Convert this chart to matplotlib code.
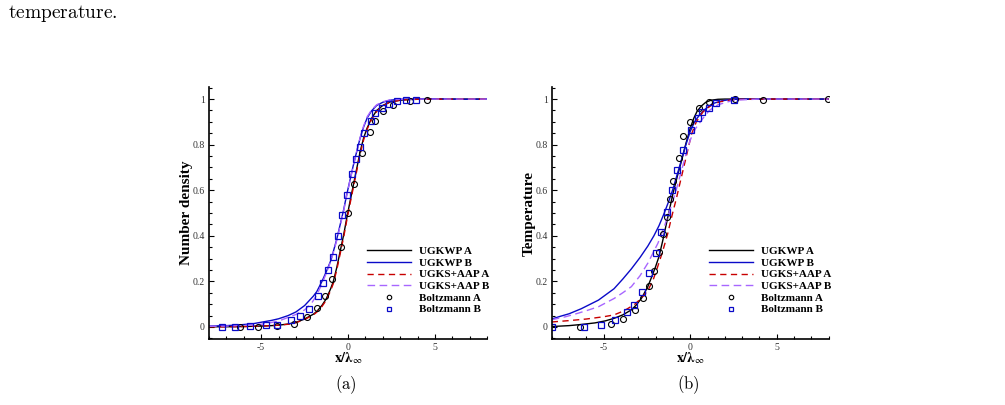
import numpy as np
import matplotlib
matplotlib.use("Agg")
import matplotlib.pyplot as plt
from matplotlib.ticker import MultipleLocator

plt.rcParams["font.family"] = ["Liberation Serif", "DejaVu Serif"]
plt.rcParams["mathtext.fontset"] = "stix"
plt.rcParams["axes.unicode_minus"] = False

# ---- (a) number density ----
a_ugkwp_A_x = [-8, -7, -6, -5, -4.4, -4, -3.45, -3, -2.5, -2, -1.8, -1.5, -1.25, -1, -0.85, -0.65, -0.45, -0.25,
               -0.08, 0.1, 0.3, 0.5, 0.7, 0.9, 1.1, 1.35, 1.65, 2, 2.4, 3, 3.5, 4.5, 6, 8]
a_ugkwp_A_y = [0.001, 0.001, 0.002, 0.004, 0.006, 0.008, 0.013, 0.02, 0.035, 0.056, 0.068, 0.095, 0.124, 0.168,
               0.199, 0.26, 0.333, 0.405, 0.475, 0.545, 0.62, 0.695, 0.77, 0.83, 0.873, 0.915, 0.95, 0.972, 0.987,
               0.995, 0.998, 1.0, 1.0, 1.0]
a_ugks_A_y = [0.001, 0.001, 0.002, 0.004, 0.006, 0.008, 0.012, 0.019, 0.033, 0.053, 0.065, 0.09, 0.118, 0.16,
              0.19, 0.25, 0.322, 0.395, 0.465, 0.535, 0.61, 0.685, 0.76, 0.822, 0.868, 0.91, 0.946, 0.97, 0.986,
              0.995, 0.998, 1.0, 1.0, 1.0]

a_ugkwp_B_x = [-8, -7, -6.3, -5.5, -4.4, -4, -3.45, -3, -2.5, -2, -1.8, -1.5, -1.25, -1, -0.85, -0.65, -0.45,
               -0.25, -0.08, 0.1, 0.3, 0.5, 0.7, 0.9, 1.1, 1.35, 1.65, 2, 2.4, 3, 3.5, 4.5, 6, 7, 8]
a_ugkwp_B_y = [0.004, 0.006, 0.009, 0.014, 0.029, 0.036, 0.05, 0.066, 0.094, 0.135, 0.155, 0.2, 0.243, 0.29,
               0.33, 0.385, 0.45, 0.515, 0.579, 0.64, 0.708, 0.77, 0.83, 0.878, 0.917, 0.948, 0.972, 0.986, 0.995,
               0.999, 1.0, 1.002, 1.0, 0.999, 1.0]

a_ugks_B_x = [-8, -7, -6, -5, -4.4, -4, -3.45, -3, -2.5, -2.1, -1.8, -1.5, -1.25, -1, -0.85, -0.65, -0.45, -0.25,
              -0.08, 0.1, 0.3, 0.5, 0.7, 0.9, 1.1, 1.35, 1.65, 2, 2.4, 3, 3.5, 4.5, 6, 8]
a_ugks_B_y = [0.003, 0.004, 0.007, 0.012, 0.02, 0.026, 0.042, 0.055, 0.075, 0.104, 0.14, 0.19, 0.236, 0.287,
              0.325, 0.38, 0.445, 0.51, 0.575, 0.637, 0.706, 0.77, 0.832, 0.882, 0.922, 0.952, 0.975, 0.988, 0.996,
              0.999, 1.0, 1.0, 1.0, 1.0]

a_boltz_A_x = [-6.24, -5.18, -4.06, -3.1, -2.34, -1.77, -1.32, -0.93, -0.43, 0.0, 0.37, 0.81, 1.26, 1.55, 2.0,
               2.56, 3.59, 4.53]
a_boltz_A_y = [0.0, 0.002, 0.006, 0.014, 0.044, 0.082, 0.134, 0.21, 0.353, 0.502, 0.628, 0.762, 0.855, 0.905,
               0.947, 0.975, 0.993, 0.996]
a_boltz_B_x = [-7.27, -6.5, -5.62, -4.75, -4.07, -3.3, -2.75, -2.25, -1.72, -1.43, -1.14, -0.89, -0.58, -0.33,
               -0.08, 0.23, 0.45, 0.68, 0.93, 1.3, 1.55, 1.98, 2.36, 2.81, 3.31, 3.9]
a_boltz_B_y = [0.0, 0.0, 0.003, 0.007, 0.01, 0.03, 0.05, 0.079, 0.134, 0.193, 0.25, 0.308, 0.399, 0.492, 0.58,
               0.67, 0.737, 0.788, 0.85, 0.905, 0.937, 0.96, 0.978, 0.99, 0.996, 0.997]

# ---- (b) temperature ----
b_ugkwp_A_x = [-8, -7, -6.3, -5.5, -4.9, -4.4, -3.9, -3.4, -3.1, -2.8, -2.45, -2.2, -2.0, -1.8, -1.6, -1.4, -1.2,
               -1.0, -0.75, -0.5, -0.25, 0, 0.2, 0.4, 0.65, 0.9, 1.2, 1.6, 2.0, 3, 5, 8]
b_ugkwp_A_y = [0.002, 0.006, 0.011, 0.018, 0.027, 0.038, 0.053, 0.075, 0.098, 0.128, 0.177, 0.225, 0.265, 0.31,
               0.375, 0.445, 0.515, 0.585, 0.66, 0.73, 0.805, 0.872, 0.915, 0.947, 0.97, 0.986, 0.995, 0.999, 1.0,
               1.0, 1.0, 1.0]

b_ugkwp_B_x = [-8, -7.5, -7, -6.3, -5.3, -4.4, -3.9, -3.4, -2.9, -2.45, -2.1, -1.8, -1.5, -1.25, -1.0, -0.75,
               -0.5, -0.25, 0, 0.25, 0.55, 0.9, 1.3, 1.8, 2.4, 3, 5, 8]
b_ugkwp_B_y = [0.035, 0.047, 0.058, 0.08, 0.118, 0.168, 0.21, 0.255, 0.305, 0.355, 0.4, 0.445, 0.5, 0.55,
               0.605, 0.67, 0.735, 0.8, 0.858, 0.9, 0.932, 0.958, 0.98, 0.992, 0.999, 1.0, 1.0, 1.0]

b_ugks_A_x = [-8, -7, -6, -5, -4.4, -3.8, -3.2, -2.8, -2.45, -2.15, -1.9, -1.6, -1.3, -1.05, -0.8, -0.55, -0.3,
              -0.1, 0.07, 0.35, 0.74, 1.2, 1.7, 2.5, 4, 8]
b_ugks_A_y = [0.022, 0.028, 0.035, 0.045, 0.053, 0.072, 0.1, 0.128, 0.16, 0.205, 0.26, 0.33, 0.41, 0.49, 0.564,
              0.645, 0.725, 0.79, 0.845, 0.9, 0.944, 0.972, 0.988, 0.998, 1.0, 1.0]

b_ugks_B_x = [-8, -7.2, -6.5, -5.9, -5.3, -4.4, -3.9, -3.4, -2.9, -2.45, -2.15, -1.87, -1.5, -1.1, -0.85, -0.6,
              -0.4, -0.2, 0, 0.3, 0.7, 1.1, 1.6, 2.5, 4, 8]
b_ugks_B_y = [0.032, 0.045, 0.06, 0.074, 0.089, 0.125, 0.15, 0.177, 0.225, 0.28, 0.325, 0.367, 0.44, 0.53, 0.59,
              0.66, 0.715, 0.77, 0.82, 0.87, 0.912, 0.95, 0.975, 0.995, 1.0, 1.0]

b_boltz_A_x = [-6.34, -4.6, -3.91, -3.18, -2.74, -2.41, -2.1, -1.83, -1.56, -1.37, -1.18, -0.98, -0.67, -0.39,
               -0.02, 0.48, 1.08, 2.56, 4.2, 7.98]
b_boltz_A_y = [0.001, 0.015, 0.036, 0.074, 0.126, 0.182, 0.247, 0.328, 0.407, 0.483, 0.56, 0.641, 0.742, 0.839,
               0.9, 0.96, 0.988, 0.999, 0.997, 0.999]
b_boltz_B_x = [-8.0, -6.11, -5.13, -4.32, -3.66, -3.24, -2.79, -2.37, -1.95, -1.66, -1.33, -1.06, -0.77, -0.44,
               0.04, 0.42, 0.69, 1.06, 1.5, 2.52]
b_boltz_B_y = [0.0, 0.0, 0.01, 0.031, 0.064, 0.096, 0.153, 0.235, 0.324, 0.416, 0.504, 0.6, 0.689, 0.777, 0.864,
               0.917, 0.942, 0.961, 0.984, 0.997]

labels = ["UGKWP A", "UGKWP B", "UGKS+AAP A", "UGKS+AAP B", "Boltzmann A", "Boltzmann B"]
c_black, c_blue, c_red, c_purple = "#000000", "#0a0ac8", "#c80000", "#a866ff"


def draw_panel(ax, A, B, ksA, ksB, bzA, bzB, ylabel):
    ax.plot(A[0], A[1], color=c_black, lw=1.0, label=labels[0])
    ax.plot(B[0], B[1], color=c_blue, lw=1.0, label=labels[1])
    ax.plot(ksA[0], ksA[1], color=c_red, lw=1.0, dashes=(4.5, 3.2), label=labels[2])
    ax.plot(ksB[0], ksB[1], color=c_purple, lw=1.0, dashes=(5.5, 3.2), label=labels[3])
    ax.plot(bzA[0], bzA[1], "o", ms=4.3, mfc="none", mec=c_black, mew=0.8, label=labels[4])
    ax.plot(bzB[0], bzB[1], "s", ms=4.0, mfc="none", mec=c_blue, mew=0.9, label=labels[5])

    ax.set_xlim(-8, 8)
    ax.set_ylim(-0.0526, 1.0526)
    ax.spines["top"].set_visible(False)
    ax.spines["right"].set_visible(False)
    for s in ["left", "bottom"]:
        ax.spines[s].set_linewidth(1.2)
    ax.xaxis.set_major_locator(MultipleLocator(5))
    ax.xaxis.set_minor_locator(MultipleLocator(1))
    ax.yaxis.set_minor_locator(MultipleLocator(0.05))
    ax.set_yticks([0, 0.2, 0.4, 0.6, 0.8, 1.0])
    ax.set_yticklabels(["0", "0.2", "0.4", "0.6", "0.8", "1"])
    ax.tick_params(which="both", direction="in", top=False, right=False, width=0.8,
                   labelsize=7, labelcolor="#333333")
    ax.tick_params(which="major", length=3.5, pad=3)
    ax.tick_params(which="minor", length=2)

    ax.set_ylabel(ylabel, fontsize=11, fontweight="bold")
    ax.yaxis.set_label_coords(-0.057, 0.5)
    ax.set_xlabel(r"$\mathbf{x/\lambda}_{\infty}$", fontsize=10)
    ax.xaxis.set_label_coords(0.5, -0.045)

    ax.legend(loc="upper left", bbox_to_anchor=(0.567, 0.368), frameon=False,
              prop={"weight": "bold", "size": 8}, handlelength=3.95, handletextpad=0.72,
              labelspacing=0.17, borderpad=0, borderaxespad=0, markerscale=0.75)


fig = plt.figure(figsize=(10.05, 4.05), dpi=100)
ax1 = fig.add_axes([0.208, 0.163, 0.2766, 0.622])
ax2 = fig.add_axes([0.549, 0.163, 0.2756, 0.622])

draw_panel(ax1, (a_ugkwp_A_x, a_ugkwp_A_y), (a_ugkwp_B_x, a_ugkwp_B_y), (a_ugkwp_A_x, a_ugks_A_y),
           (a_ugks_B_x, a_ugks_B_y), (a_boltz_A_x, a_boltz_A_y), (a_boltz_B_x, a_boltz_B_y), "Number density")
draw_panel(ax2, (b_ugkwp_A_x, b_ugkwp_A_y), (b_ugkwp_B_x, b_ugkwp_B_y), (b_ugks_A_x, b_ugks_A_y),
           (b_ugks_B_x, b_ugks_B_y), (b_boltz_A_x, b_boltz_A_y), (b_boltz_B_x, b_boltz_B_y), "Temperature")

# caption text from the paper page
fig.text(0.008, 0.966, r"$\mathrm{temperature.}$", fontsize=14, math_fontfamily="cm", va="center")
fig.text(0.344, 0.05, r"$\mathrm{(a)}$", fontsize=12, math_fontfamily="cm", ha="center", va="center")
fig.text(0.685, 0.05, r"$\mathrm{(b)}$", fontsize=12, math_fontfamily="cm", ha="center", va="center")

fig.savefig("out.png", dpi=100)
